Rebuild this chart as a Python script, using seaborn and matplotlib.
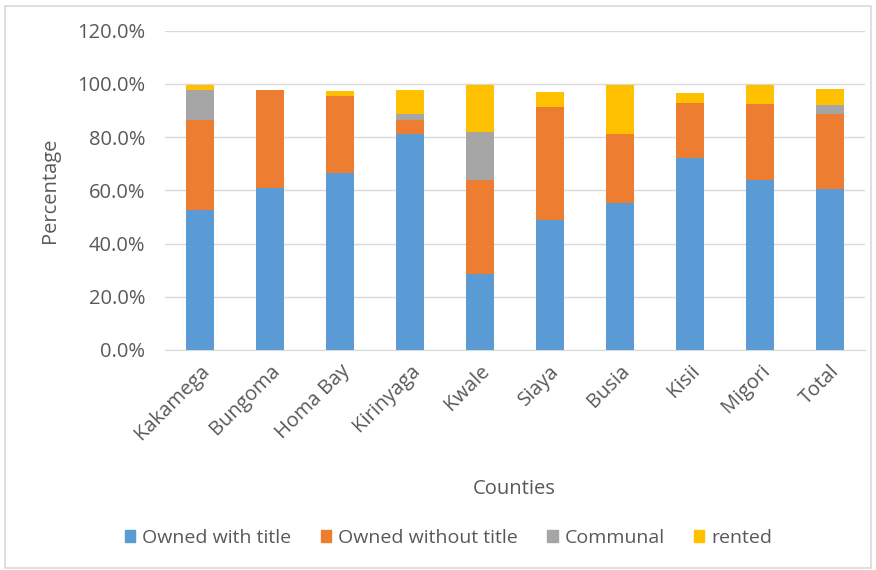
import numpy as np
import pandas as pd
import matplotlib
matplotlib.use("Agg")
import matplotlib.pyplot as plt
import matplotlib.patches as mpatches
import seaborn as sns

counties = ['Kakamega', 'Bungoma', 'Homa Bay', 'Kirinyaga', 'Kwale',
            'Siaya', 'Busia', 'Kisii', 'Migori', 'Total']
owned_title = [52.8, 60.9, 66.7, 81.2, 28.6, 48.7, 55.3, 72.3, 64.0, 60.5]
owned_no_title = [33.7, 36.8, 28.7, 5.3, 35.4, 42.5, 25.9, 20.7, 28.6, 28.2]
communal = [11.4, 0.0, 0.0, 2.2, 18.1, 0.0, 0.0, 0.0, 0.0, 3.5]
rented = [1.8, 0.0, 2.0, 9.0, 17.6, 5.7, 18.5, 3.5, 7.1, 6.0]

series = ['Owned with title', 'Owned without title', 'Communal', 'rented']
colors = ['#5b9bd5', '#ed7d31', '#a5a5a5', '#ffc000']

sns.set_style("white")
plt.rcParams['font.family'] = ['Open Sans', 'DejaVu Sans']
txt = '#595959'

df = pd.DataFrame({'county': counties, 'a': owned_title, 'b': owned_no_title,
                   'c': communal, 'd': rented})
cum = df[['a', 'b', 'c', 'd']].cumsum(axis=1)

fig = plt.figure(figsize=(8.76, 5.7), dpi=100)
ax = fig.add_axes([0.188, 0.386, 0.799, 0.56])

# draw tallest stack first so the lower segments sit on top
for col, c in zip(['d', 'c', 'b', 'a'], colors[::-1]):
    sns.barplot(x=df['county'], y=cum[col], color=c, width=0.4,
                saturation=1, linewidth=0, ax=ax, zorder=3)

ax.set_ylim(0, 120)
ax.set_xlim(-0.5, len(counties) - 0.5)
ax.set_yticks(np.arange(0, 121, 20))
ax.set_yticklabels([f'{v:.1f}%' for v in np.arange(0, 121, 20)])
ax.yaxis.grid(True, color='#d9d9d9', linewidth=1, zorder=0)
ax.set_axisbelow(True)
for s in ['top', 'right', 'left']:
    ax.spines[s].set_visible(False)
ax.spines['bottom'].set_color('#d9d9d9')
ax.tick_params(axis='y', length=0, labelsize=14.5, labelcolor=txt, pad=14)
ax.tick_params(axis='x', which='major', length=0, labelsize=14.5, labelcolor=txt, pad=8)
ax.set_xticks(np.arange(-0.5, len(counties)), minor=True)
ax.tick_params(axis='x', which='minor', length=7, color='#d9d9d9')
plt.setp(ax.get_xticklabels(), rotation=45, ha='right', rotation_mode='anchor')

ax.set_xlabel('Counties', fontsize=14.5, color=txt)
ax.set_ylabel('Percentage', fontsize=14.5, color=txt)
ax.xaxis.set_label_coords(0.5, -0.405)
ax.yaxis.set_label_coords(-0.15, 0.5)

handles = [mpatches.Patch(color=c, label=s) for c, s in zip(colors, series)]
fig.legend(handles=handles, loc='center', bbox_to_anchor=(0.512, 0.056), ncol=4,
           frameon=False, fontsize=14, labelcolor=txt, handlelength=0.55,
           handleheight=0.55, handletextpad=0.35, columnspacing=1.5)

fig.patches.append(mpatches.Rectangle((0.006, 0.004), 0.988, 0.986, transform=fig.transFigure,
                                      fill=False, edgecolor='#d9d9d9', linewidth=1.2))

fig.savefig('out.png', dpi=100)
